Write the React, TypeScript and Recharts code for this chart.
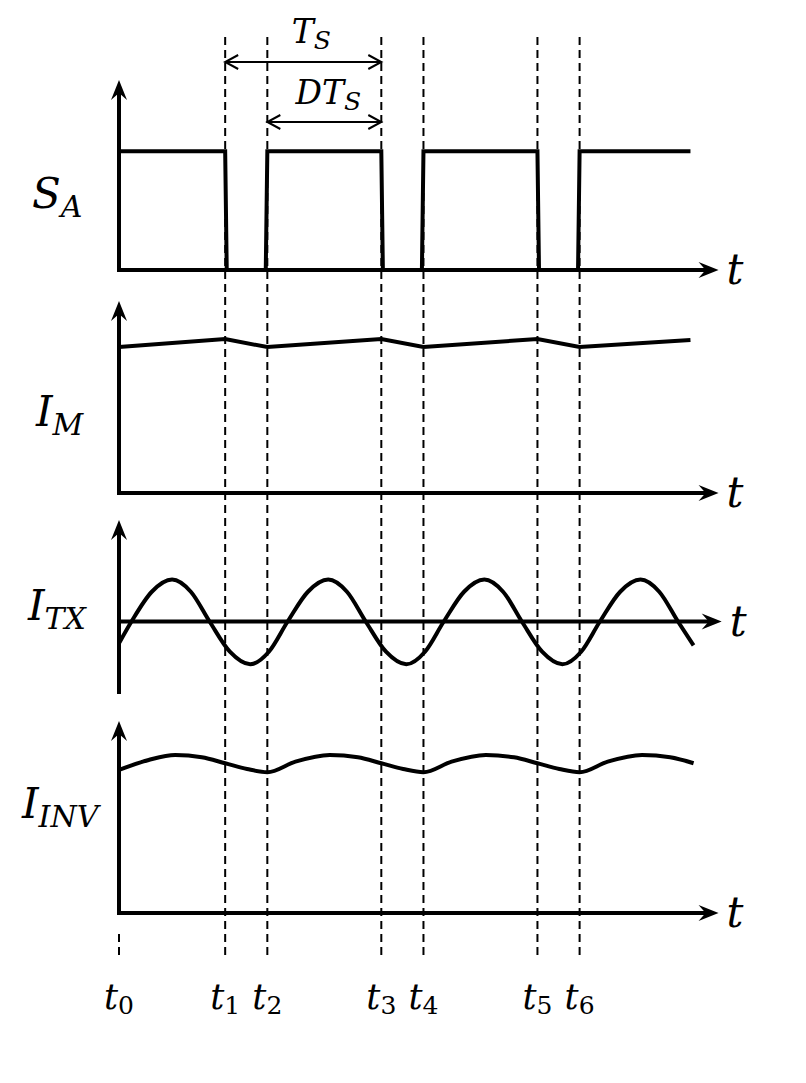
import { LineChart, Line, XAxis, YAxis, ReferenceLine, ReferenceDot } from 'recharts';

const W = 806;
const H = 1083;
const FONT = '"DejaVu Serif", "Liberation Serif", serif';

// switching instants t0..t6, time in units of Ts
const switchTimes = [0, 0.68, 0.95, 1.68, 1.95, 2.68, 2.95];
const switchLabels = ['0', '1', '2', '3', '4', '5', '6'];

// gate signal S_A (0 = off, 1 = on)
const saTime = [0, 0.68, 0.69, 0.94, 0.95, 1.68, 1.69, 1.94, 1.95, 2.68, 2.69, 2.94, 2.95, 3.66];
const saLevel = [1, 1, 0, 0, 1, 1, 0, 0, 1, 1, 0, 0, 1, 1];

// magnetizing current I_M
const imTime = [0, 0.68, 0.95, 1.68, 1.95, 2.68, 2.95, 3.66];
const imValue = [7.6, 8.02, 7.6, 8.02, 7.6, 8.02, 7.6, 7.97];

// transformer current I_TX
const itxTime = [
  0, 0.08, 0.21, 0.34, 0.46, 0.58, 0.71, 0.84, 0.96,
  1.08, 1.21, 1.34, 1.46, 1.58, 1.71, 1.84, 1.96,
  2.08, 2.21, 2.34, 2.46, 2.58, 2.71, 2.84, 2.96,
  3.08, 3.21, 3.34, 3.46, 3.58, 3.68,
];
const itxValue = [
  -0.52, 0, 0.71, 1, 0.71, 0, -0.72, -1.02, -0.72,
  0, 0.71, 1, 0.71, 0, -0.72, -1.02, -0.72,
  0, 0.71, 1, 0.71, 0, -0.72, -1.02, -0.72,
  0, 0.71, 1, 0.71, 0, -0.57,
];

// inverter current I_INV
const iinvTime = [
  0, 0.19, 0.36, 0.53, 0.68, 0.82, 0.95,
  1.13, 1.35, 1.53, 1.68, 1.82, 1.95,
  2.13, 2.35, 2.53, 2.68, 2.82, 2.95,
  3.13, 3.35, 3.53, 3.68,
];
const iinvValue = [
  7.45, 7.97, 8.23, 8.11, 7.8, 7.5, 7.33,
  7.88, 8.23, 8.11, 7.8, 7.5, 7.33,
  7.88, 8.23, 8.11, 7.8, 7.5, 7.33,
  7.88, 8.23, 8.11, 7.8,
];

const zip = (ts: number[], vs: number[]) => ts.map((t, i) => ({ t, v: vs[i] }));

// vertical band (page px) of each panel and the value range it shows
function bandDomain(top: number, bottom: number, vmin: number, vmax: number): [number, number] {
  const k = (vmax - vmin) / (bottom - top);
  return [vmin - (H - bottom) * k, vmax + top * k];
}

const panels = [
  { id: 'sa', top: 80, bottom: 270, vmin: 0, vmax: 1.6, yFrom: 0, xEnd: 3.84, data: zip(saTime, saLevel), curve: 'linear', main: 'S', sub: 'A', lx: -87, ly: 208 },
  { id: 'im', top: 301, bottom: 493, vmin: 0, vmax: 10, yFrom: 0, xEnd: 3.84, data: zip(imTime, imValue), curve: 'linear', main: 'I', sub: 'M', lx: -83, ly: 426 },
  { id: 'itx', top: 520, bottom: 692, vmin: -1.68, vmax: 2.42, yFrom: -1.68, xEnd: 3.86, data: zip(itxTime, itxValue), curve: 'monotone', main: 'I', sub: 'TX', lx: -91, ly: 620 },
  { id: 'iinv', top: 721, bottom: 913, vmin: 0, vmax: 10, yFrom: 0, xEnd: 3.84, data: zip(iinvTime, iinvValue), curve: 'monotone', main: 'I', sub: 'INV', lx: -97, ly: 818 },
];

// page-row position expressed on the first panel's axis (annotations span the whole figure)
const top = panels[0];
const rowY = (y: number) => top.vmin + (top.bottom - y) * ((top.vmax - top.vmin) / (top.bottom - top.top));

type MathProps = {
  x: number; y: number; main: string; sub?: string; size: number; subSize?: number;
  subDy?: number; uprightSub?: boolean; anchor?: 'start' | 'middle' | 'end';
};

const MathText = ({ x, y, main, sub, size, subSize = 0, subDy = 0, uprightSub, anchor = 'start' }: MathProps) => (
  <text x={x} y={y} fontFamily={FONT} fontSize={size} fill="#000" textAnchor={anchor}>
    <tspan fontStyle="italic">{main}</tspan>
    {sub ? (
      <tspan fontSize={subSize} dy={subDy} fontStyle={uprightSub ? 'normal' : 'italic'}>{sub}</tspan>
    ) : null}
  </text>
);

const axisArrow = (p: any) => {
  const { x1, y1, x2, y2 } = p;
  const len = Math.hypot(x2 - x1, y2 - y1) || 1;
  const ux = (x2 - x1) / len;
  const uy = (y2 - y1) / len;
  const nx = -uy;
  const ny = ux;
  const back = 20, half = 8, notch = 13;
  const bx = x2 - ux * back, by = y2 - uy * back;
  const cx = x2 - ux * notch, cy = y2 - uy * notch;
  return (
    <g>
      <line x1={x1} y1={y1} x2={cx} y2={cy} stroke="#000" strokeWidth={4} strokeLinecap="square" />
      <path
        d={`M${x2},${y2}L${bx + nx * half},${by + ny * half}L${cx},${cy}L${bx - nx * half},${by - ny * half}Z`}
        fill="#000"
      />
    </g>
  );
};

const spanArrow = (p: any) => {
  const { x1, y1, x2, y2 } = p;
  const h = 13, w = 7;
  return (
    <g fill="none" stroke="#000" strokeWidth={2}>
      <line x1={x1} y1={y1} x2={x2} y2={y2} />
      <polyline points={`${x1 + h},${y1 - w} ${x1},${y1} ${x1 + h},${y1 + w}`} />
      <polyline points={`${x2 - h},${y2 - w} ${x2},${y2} ${x2 - h},${y2 + w}`} />
    </g>
  );
};

export default function App() {
  const [, t1, t2, t3] = switchTimes;
  return (
    <div style={{ position: 'absolute', left: 0, top: 0, width: W, height: H, background: '#fff' }}>
      <LineChart width={W} height={H} margin={{ top: 0, right: 0, bottom: 0, left: 119 }}>
        <XAxis type="number" dataKey="t" domain={[0, 4.4]} hide />
        {panels.map((p) => (
          <YAxis key={p.id} yAxisId={p.id} type="number" domain={bandDomain(p.top, p.bottom, p.vmin, p.vmax)} hide />
        ))}

        {/* dashed switching instants */}
        {switchTimes.map((t, i) => (
          <ReferenceLine
            key={`d${i}`}
            yAxisId="sa"
            ifOverflow="visible"
            segment={[{ x: t, y: rowY(i === 0 ? 934 : 37) }, { x: t, y: rowY(i === 0 ? 956 : 958) }]}
            stroke="#000"
            strokeWidth={2}
            strokeDasharray="8 5"
          />
        ))}

        {/* Ts and D·Ts spans */}
        <ReferenceLine yAxisId="sa" ifOverflow="visible" segment={[{ x: t1, y: rowY(62) }, { x: t3, y: rowY(62) }]} shape={spanArrow} />
        <ReferenceLine yAxisId="sa" ifOverflow="visible" segment={[{ x: t2, y: rowY(122) }, { x: t3, y: rowY(122) }]} shape={spanArrow} />
        <ReferenceDot
          yAxisId="sa" ifOverflow="visible" x={(t1 + t3) / 2} y={rowY(43)}
          shape={(d: any) => <MathText x={d.cx + 8} y={d.cy} main="T" sub="S" size={33} subSize={25} subDy={6} anchor="middle" />}
        />
        <ReferenceDot
          yAxisId="sa" ifOverflow="visible" x={(t2 + t3) / 2} y={rowY(104)}
          shape={(d: any) => <MathText x={d.cx + 4} y={d.cy} main="DT" sub="S" size={33} subSize={25} subDy={6} anchor="middle" />}
        />

        {/* axes with arrow heads */}
        {panels.map((p) => (
          <ReferenceLine key={`y${p.id}`} yAxisId={p.id} ifOverflow="visible" segment={[{ x: 0, y: p.yFrom }, { x: 0, y: p.vmax }]} shape={axisArrow} />
        ))}
        {panels.map((p) => (
          <ReferenceLine key={`x${p.id}`} yAxisId={p.id} ifOverflow="visible" segment={[{ x: 0, y: 0 }, { x: p.xEnd, y: 0 }]} shape={axisArrow} />
        ))}

        {/* panel names and t labels */}
        {panels.map((p) => (
          <ReferenceDot
            key={`n${p.id}`} yAxisId="sa" ifOverflow="visible" x={0} y={rowY(p.ly)}
            shape={(d: any) => <MathText x={d.cx + p.lx} y={d.cy} main={p.main} sub={p.sub} size={42} subSize={30} subDy={9} />}
          />
        ))}
        {panels.map((p) => (
          <ReferenceDot
            key={`t${p.id}`} yAxisId={p.id} ifOverflow="visible" x={p.xEnd} y={0}
            shape={(d: any) => <MathText x={d.cx + 8} y={d.cy + 14} main="t" size={42} />}
          />
        ))}
        {switchTimes.map((t, i) => (
          <ReferenceDot
            key={`l${i}`} yAxisId="sa" ifOverflow="visible" x={t} y={rowY(1009)}
            shape={(d: any) => <MathText x={d.cx - 15} y={d.cy} main="t" sub={switchLabels[i]} size={35} subSize={25} subDy={5} uprightSub />}
          />
        ))}

        {panels.map((p) => (
          <Line
            key={p.id}
            yAxisId={p.id}
            data={p.data}
            dataKey="v"
            type={p.curve as any}
            stroke="#000"
            strokeWidth={4}
            dot={false}
            activeDot={false}
            isAnimationActive={false}
          />
        ))}
      </LineChart>
    </div>
  );
}
